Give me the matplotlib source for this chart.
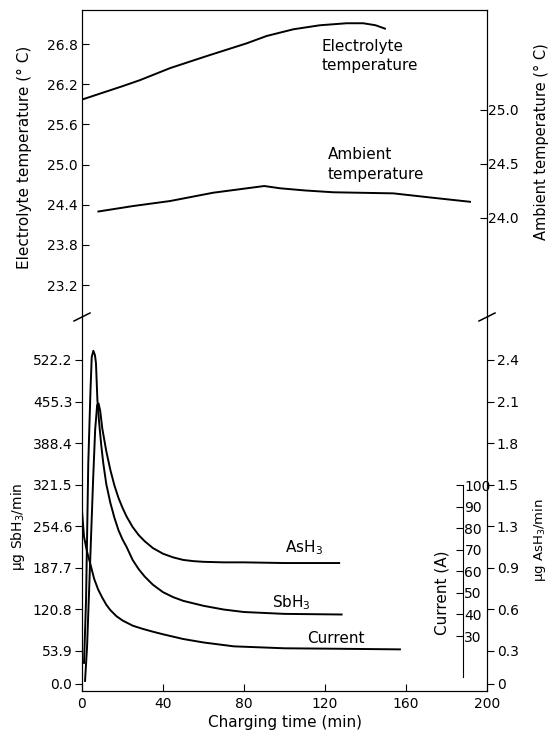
import matplotlib
matplotlib.use('Agg')
import matplotlib.pyplot as plt
from matplotlib.lines import Line2D

# ---------------- data ----------------
elec_t = [0, 10, 20, 28.6, 43.5, 61.6, 81.3, 91.2, 104.4, 117.5, 130.7, 138.9, 145, 149.6]
elec_T = [25.97, 26.07, 26.17, 26.26, 26.44, 26.62, 26.81, 26.92, 27.02, 27.08, 27.11, 27.11, 27.08, 27.03]

amb_t = [8.1, 25, 43.5, 64.8, 90.0, 97.8, 110, 124.1, 153.7, 171.9, 191.6]
amb_T = [24.06, 24.11, 24.157, 24.234, 24.296, 24.275, 24.255, 24.238, 24.228, 24.19, 24.15]

sb_t = [1.0, 2.0, 3.1, 4.2, 4.8, 5.6, 6.4, 6.9, 7.6, 8.5, 9.5, 10.5, 12, 14, 16, 18, 20, 22,
        25, 28, 31, 35, 40, 45, 50, 60, 70, 80, 100, 128.2]
sb_v = [34, 135, 356, 474, 527, 537, 530, 517, 458, 420, 385, 356, 322, 292, 268, 248, 233, 221,
        200, 185, 173, 160, 148, 140, 134, 126, 120, 116, 113, 112]

as_t = [1.5, 2.5, 3.5, 4.5, 5.5, 6.5, 7.5, 8.2, 9, 10, 12, 14, 16, 18, 20, 22, 25, 28, 31, 35,
        40, 45, 50, 55, 60, 70, 80, 100, 127]
as_v = [0.023, 0.276, 0.689, 1.103, 1.517, 1.884, 2.068, 2.077, 2.022, 1.894, 1.724, 1.586,
        1.471, 1.379, 1.305, 1.241, 1.163, 1.103, 1.057, 1.007, 0.965, 0.938, 0.919, 0.910,
        0.905, 0.901, 0.901, 0.896, 0.896]

cur_t = [0, 1, 2.5, 4, 6, 8, 10, 12, 14, 17, 20, 25, 30, 35, 40, 50, 60, 75, 100, 125, 157]
cur_v = [88, 76, 69, 63.8, 56.5, 51.5, 47.8, 44.5, 42, 39.2, 37.2, 34.8, 33.3, 32.0, 30.8,
         28.6, 27, 25.2, 24.3, 24.1, 23.8]

x_ticks = [0, 40, 80, 120, 160, 200]
elec_ticks = [23.2, 23.8, 24.4, 25.0, 25.6, 26.2, 26.8]
amb_ticks = [24.0, 24.5, 25.0]
sb_ticks = [0.0, 53.9, 120.8, 187.7, 254.6, 321.5, 388.4, 455.3, 522.2]
as_tick_labels = ['0', '0.3', '0.6', '0.9', '1.3', '1.5', '1.8', '2.1', '2.4']
cur_ticks = [30, 40, 50, 60, 70, 80, 90, 100]
SB_PER_AS = 522.2 / 2.4

# ---------------- layout ----------------
W, H = 552, 740
fig = plt.figure(figsize=(W / 100, H / 100), dpi=100)
L, R = 82, 487
TOP, BRK, BOT = 10, 317, 691


def rect(y0, y1):
    return [L / W, 1 - y1 / H, (R - L) / W, (y1 - y0) / H]


FS = 10
LW = 1.4
ax_t = fig.add_axes(rect(TOP, BRK))
ax_b = fig.add_axes(rect(BRK, BOT))

# ---- top panel ----
ax_t.plot(elec_t, elec_T, color='black', lw=LW)
ax_t.set_xlim(0, 200)
ax_t.set_ylim(22.722, 27.308)
ax_t.set_yticks(elec_ticks)
ax_t.set_yticklabels([f'{v:.1f}' for v in elec_ticks])
ax_t.set_xticks([])
ax_t.spines['bottom'].set_visible(False)
ax_t.tick_params(axis='y', direction='in', length=5, pad=3, labelsize=FS)
ax_t.set_ylabel('Electrolyte temperature (° C)', fontsize=11)
ax_t.yaxis.set_label_coords(-0.123, 0.52)

ax_t2 = ax_t.twinx()
ax_t2.plot(amb_t, amb_T, color='black', lw=LW)
ax_t2.set_ylim(23.083, 25.926)
ax_t2.set_yticks(amb_ticks)
ax_t2.set_yticklabels([f'{v:.1f}' for v in amb_ticks])
ax_t2.spines['bottom'].set_visible(False)
ax_t2.tick_params(axis='y', direction='in', length=5, pad=1, labelsize=FS)
ax_t2.set_ylabel('Ambient temperature (° C)', fontsize=10.5)
ax_t2.yaxis.set_label_coords(1.116, 0.57)

ax_t.text(118.5, 26.62, 'Electrolyte\ntemperature', fontsize=11, ha='left', va='center',
          linespacing=1.35)
ax_t.text(121.5, 25.0, 'Ambient\ntemperature', fontsize=11, ha='left', va='center',
          linespacing=1.35)

# ---- bottom panel ----
ax_b.plot(sb_t, sb_v, color='black', lw=LW)
ax_b.set_xlim(0, 200)
ax_b.set_ylim(-11.3, 591.5)
ax_b.set_yticks(sb_ticks)
ax_b.set_yticklabels([f'{v:.1f}' for v in sb_ticks])
ax_b.set_xticks(x_ticks)
ax_b.spines['top'].set_visible(False)
ax_b.tick_params(axis='y', direction='out', length=5, pad=2, labelsize=FS)
ax_b.tick_params(axis='x', direction='in', length=5, pad=4, labelsize=FS)
ax_b.set_xlabel('Charging time (min)', fontsize=11, labelpad=3)
ax_b.set_ylabel('μg SbH$_3$/min', fontsize=10)
ax_b.yaxis.set_label_coords(-0.135, 0.44)

ax_as = ax_b.twinx()
ax_as.plot(as_t, as_v, color='black', lw=LW)
ax_as.set_ylim(-11.3 / SB_PER_AS, 591.5 / SB_PER_AS)
ax_as.set_yticks([v / SB_PER_AS for v in sb_ticks])
ax_as.set_yticklabels(as_tick_labels)
ax_as.spines['top'].set_visible(False)
ax_as.tick_params(axis='y', direction='out', length=5, pad=2, labelsize=FS)
ax_as.set_ylabel('μg AsH$_3$/min', fontsize=9.5)
ax_as.yaxis.set_label_coords(1.108, 0.404)

ax_cur = ax_b.twinx()
ax_cur.plot(cur_t, cur_v, color='black', lw=LW)
ax_cur.set_ylim(4.5, 177.9)
for s in ['top', 'left', 'bottom']:
    ax_cur.spines[s].set_visible(False)
ax_cur.spines['right'].set_position(('axes', (463 - L) / (R - L)))
ax_cur.spines['right'].set_bounds(11, 100)
ax_cur.set_yticks(cur_ticks)
ax_cur.tick_params(axis='y', direction='in', length=5, pad=1, labelsize=FS)
fig.text(442 / W, 1 - 593 / H, 'Current (A)', rotation=90, fontsize=11,
         ha='center', va='center')

ax_b.text(100.2, 219, 'AsH$_3$', fontsize=11, ha='left', va='center')
ax_b.text(93.8, 130.5, 'SbH$_3$', fontsize=11, ha='left', va='center')
ax_b.text(111, 74, 'Current', fontsize=11, ha='left', va='center')

# ---- axis break marks ----
yb = 1 - BRK / H
for xp in (L, R):
    xf = xp / W
    fig.add_artist(Line2D([xf - 8 / W, xf + 8 / W], [yb - 4 / H, yb + 4 / H],
                          color='black', lw=1.1, transform=fig.transFigure))

fig.savefig('out.png', dpi=100)
